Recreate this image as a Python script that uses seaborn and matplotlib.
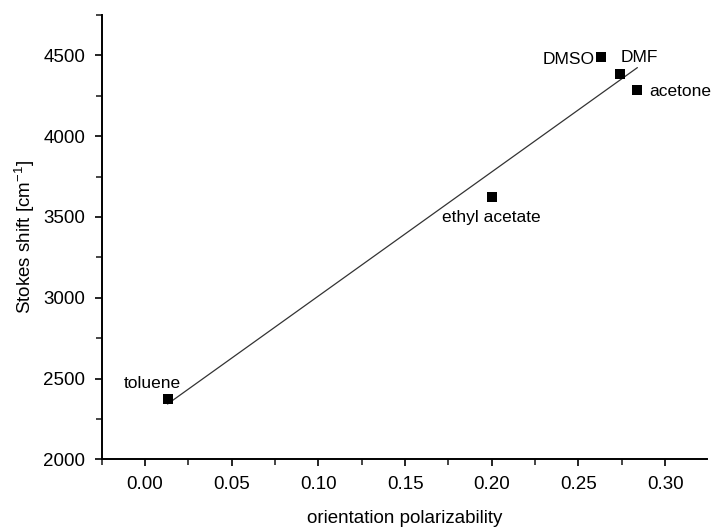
import numpy as np
import pandas as pd
import matplotlib
matplotlib.use("Agg")
import matplotlib.pyplot as plt
import seaborn as sns
from matplotlib.ticker import MultipleLocator

solvents = ["toluene", "ethyl acetate", "DMSO", "DMF", "acetone"]
orient_pol = [0.013, 0.200, 0.263, 0.274, 0.284]
stokes_shift = [2371, 3624, 4490, 4387, 4284]

df = pd.DataFrame({"solvent": solvents, "df": orient_pol, "shift": stokes_shift})

sns.set_theme(style="ticks")
plt.rcParams["font.family"] = ["Liberation Sans", "DejaVu Sans"]
plt.rcParams["mathtext.fontset"] = "custom"
plt.rcParams["mathtext.rm"] = "Liberation Sans"

fig = plt.figure(figsize=(7.12, 5.27), dpi=100)
ax = fig.add_axes([0.1428, 0.1285, 0.8498, 0.843])

# linear fit over data range
coef = np.polyfit(df["df"], df["shift"], 1)
xfit = np.array([df["df"].min(), df["df"].max()])
ax.plot(xfit, np.polyval(coef, xfit), color="#333333", lw=0.9, zorder=1)

sns.scatterplot(data=df, x="df", y="shift", marker="s", s=55, color="black",
                edgecolor="black", linewidth=0, ax=ax, zorder=3)

offsets = {
    "toluene": ((-15, 16), "center"),
    "ethyl acetate": ((0, -21), "center"),
    "DMSO": ((-6, -2), "right"),
    "DMF": ((1, 16), "left"),
    "acetone": ((12, -1), "left"),
}
for s, xv, yv in zip(solvents, orient_pol, stokes_shift):
    (dx, dy), ha = offsets[s]
    ax.annotate(s, (xv, yv), xytext=(dx, dy), textcoords="offset pixels",
                ha=ha, va="center", fontsize=12.5, color="black")

ax.set_xlim(-0.025, 0.324)
ax.set_ylim(2000, 4750)
ax.xaxis.set_major_locator(MultipleLocator(0.05))
ax.xaxis.set_minor_locator(MultipleLocator(0.025))
ax.yaxis.set_major_locator(MultipleLocator(500))
ax.yaxis.set_minor_locator(MultipleLocator(250))
ax.set_xticks(np.arange(0, 0.31, 0.05))
ax.set_xticklabels([f"{v:.2f}" for v in np.arange(0, 0.31, 0.05)])

ax.tick_params(axis="both", which="major", length=5, width=1.2, direction="out",
               labelsize=13.5, colors="black", pad=7)
ax.tick_params(axis="both", which="minor", length=4, width=1.2, direction="out")

for side in ["top", "right"]:
    ax.spines[side].set_visible(False)
for side in ["left", "bottom"]:
    ax.spines[side].set_linewidth(1.4)
    ax.spines[side].set_color("black")

ax.set_xlabel("orientation polarizability", fontsize=13.5, color="black", labelpad=12)
ax.set_ylabel("Stokes shift [cm$^{\\mathregular{-1}}$]", fontsize=13.5, color="black", labelpad=4)

fig.savefig("out.png", dpi=100)
